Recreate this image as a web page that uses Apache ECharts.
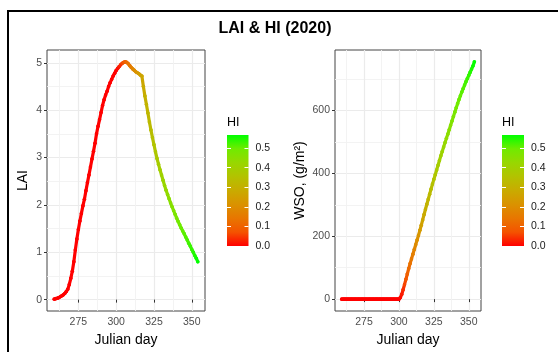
<!DOCTYPE html>
<html>
<head>
<meta charset="utf-8">
<script src="https://cdn.jsdelivr.net/npm/echarts@6/dist/echarts.min.js"></script>
<style>html,body{margin:0;padding:0;background:#fff}#c{width:558px;height:352px}</style>
</head>
<body>
<div id="c"></div>
<script>
// ---------- data ----------
const days = [];
for (let d = 259; d <= 354; d++) days.push(d);

const lai = [
  0.01,0.02,0.03,0.04,0.06,0.08,0.10,0.13,0.17,0.22,
  0.32,0.45,0.60,0.80,1.05,1.28,1.48,1.66,1.82,1.98,
  2.12,2.30,2.47,2.63,2.80,2.97,3.13,3.30,3.50,3.66,
  3.80,3.95,4.10,4.22,4.32,4.40,4.50,4.58,4.65,4.72,
  4.78,4.84,4.88,4.92,4.96,4.99,5.01,5.02,5.01,4.98,
  4.94,4.90,4.87,4.84,4.81,4.79,4.77,4.74,4.72,4.50,
  4.30,4.12,3.94,3.75,3.58,3.42,3.27,3.12,2.98,2.86,
  2.74,2.63,2.52,2.41,2.31,2.22,2.13,2.04,1.96,1.88,
  1.80,1.72,1.65,1.58,1.51,1.45,1.39,1.32,1.26,1.19,
  1.13,1.06,1.00,0.93,0.87,0.80
];

const wso = [
  0,0,0,0,0,0,0,0,0,0,
  0,0,0,0,0,0,0,0,0,0,
  0,0,0,0,0,0,0,0,0,0,
  0,0,0,0,0,0,0,0,0,0,
  0,0,5,15,30,46,63,80,97,113,
  128,143,158,173,188,203,219,235,252,269,
  286,302,318,334,350,366,381,396,411,426,
  441,456,470,484,498,512,525,539,553,567,
  581,595,609,622,635,647,659,670,681,692,
  702,712,722,732,742,755
];

const hi = [
  0,0,0,0,0,0,0,0,0,0,
  0,0,0,0,0,0,0,0,0,0,
  0,0,0,0,0,0,0,0,0,0,
  0,0,0,0,0,0,0,0,0,0,
  0,0,0.01,0.025,0.04,0.06,0.08,0.10,0.12,0.135,
  0.15,0.165,0.18,0.195,0.21,0.225,0.24,0.255,0.27,0.285,
  0.30,0.31,0.32,0.33,0.34,0.35,0.36,0.37,0.38,0.39,
  0.40,0.41,0.42,0.425,0.43,0.44,0.45,0.455,0.46,0.47,
  0.475,0.48,0.49,0.495,0.50,0.505,0.51,0.515,0.52,0.525,
  0.53,0.535,0.545,0.55,0.56,0.567
];

const xTicks = [275, 300, 325, 350];
const xMinor = [262.5, 287.5, 312.5, 337.5];
const laiTicks = [0, 1, 2, 3, 4, 5];
const laiMinor = [0.5, 1.5, 2.5, 3.5, 4.5];
const wsoTicks = [0, 200, 400, 600];
const wsoMinor = [100, 300, 500, 700];
const hiTicks = [0, 0.1, 0.2, 0.3, 0.4, 0.5];

// ---------- styling ----------
const FONT = "'Liberation Sans', Arial, sans-serif";
const gradColors = ['#FF0000','#F45300','#E87600','#DA9200','#C9AB00','#B3C200','#98D700','#70EB00','#00FF00'];

function range(arr, pad) {
  let mn = Math.min(...arr), mx = Math.max(...arr);
  const e = (mx - mn) * pad;
  return [mn - e, mx + e];
}
const xr = range(days, 0.05);
const lr = range(lai, 0.05);
const wr = range(wso, 0.05);
const hiMax = Math.max(...hi);

function mainX(gi) {
  return [{
    gridIndex: gi, type: 'value', min: xr[0], max: xr[1],
    axisLine: {show: false},
    axisTick: {show: true, customValues: xTicks, length: 3, lineStyle: {color: '#333', width: 1}},
    axisLabel: {customValues: xTicks, color: '#4D4D4D', fontSize: 10.5, fontFamily: FONT, margin: 6},
    splitLine: {show: true, lineStyle: {color: '#EBEBEB', width: 1.2}},
    name: 'Julian day', nameLocation: 'middle', nameGap: 21,
    nameTextStyle: {color: '#000', fontSize: 14, fontFamily: FONT}
  }, {
    gridIndex: gi, type: 'value', min: xr[0], max: xr[1], position: 'bottom',
    axisLine: {show: false}, axisLabel: {show: false},
    axisTick: {show: false, customValues: xMinor},
    splitLine: {show: true, lineStyle: {color: '#F2F2F2', width: 0.9}}
  }];
}
function mainY(gi, rng, ticks, minor, name, gap) {
  return [{
    gridIndex: gi, type: 'value', min: rng[0], max: rng[1],
    axisLine: {show: false},
    axisTick: {show: true, customValues: ticks, length: 3, lineStyle: {color: '#333', width: 1}},
    axisLabel: {customValues: ticks, color: '#4D4D4D', fontSize: 10.5, fontFamily: FONT, margin: 5},
    splitLine: {show: true, lineStyle: {color: '#EBEBEB', width: 1.2}},
    name: name, nameLocation: 'middle', nameGap: gap,
    nameTextStyle: {color: '#000', fontSize: 14, fontFamily: FONT}
  }, {
    gridIndex: gi, type: 'value', min: rng[0], max: rng[1], position: 'left',
    axisLine: {show: false}, axisLabel: {show: false},
    axisTick: {show: false, customValues: minor},
    splitLine: {show: true, lineStyle: {color: '#F2F2F2', width: 0.9}}
  }];
}
function barY(gi) {
  return [{
    gridIndex: gi, type: 'value', min: 0, max: hiMax, position: 'right', z: 10,
    axisLine: {show: false}, splitLine: {show: false},
    axisTick: {show: true, inside: true, length: 4, customValues: hiTicks, lineStyle: {color: '#fff', width: 1}},
    axisLabel: {customValues: hiTicks, color: '#1A1A1A', fontSize: 10.5, fontFamily: FONT, margin: 7,
      formatter: v => Number(v).toFixed(1)}
  }, {
    gridIndex: gi, type: 'value', min: 0, max: hiMax, position: 'left', z: 10,
    axisLine: {show: false}, splitLine: {show: false}, axisLabel: {show: false},
    axisTick: {show: true, inside: true, length: 4, customValues: hiTicks, lineStyle: {color: '#fff', width: 1}}
  }];
}

function makeRender(xs, ys) {
  return function (params, api) {
    const i = params.dataIndex;
    const p = api.coord([api.value(0), api.value(1)]);
    const color = api.visual('color');
    const children = [];
    if (i < xs.length - 1) {
      const q = api.coord([xs[i + 1], ys[i + 1]]);
      children.push({type: 'line', shape: {x1: p[0], y1: p[1], x2: q[0], y2: q[1]},
        style: {stroke: color, lineWidth: 3.2, lineCap: 'round'}});
    }
    children.push({type: 'circle', shape: {cx: p[0], cy: p[1], r: 1.8}, style: {fill: color}});
    return {type: 'group', children: children};
  };
}

const gradient = {
  type: 'linear', x: 0, y: 1, x2: 0, y2: 0,
  colorStops: gradColors.map((c, i) => ({offset: i / (gradColors.length - 1), color: c}))
};

const option = {
  animation: false,
  backgroundColor: '#fff',
  title: [
    {text: 'LAI & HI (2020)', left: 275, top: 21, textAlign: 'center', padding: 0,
      textStyle: {fontSize: 16, fontWeight: 'bold', color: '#000', fontFamily: FONT}},
    {text: 'HI', left: 227, top: 116, textStyle: {fontSize: 12.5, fontWeight: 'normal', color: '#000', fontFamily: FONT}, padding: 0},
    {text: 'HI', left: 502, top: 116, textStyle: {fontSize: 12.5, fontWeight: 'normal', color: '#000', fontFamily: FONT}, padding: 0}
  ],
  graphic: [{type: 'rect', shape: {x: 8, y: 11, width: 600, height: 400}, style: {fill: 'none', stroke: '#000', lineWidth: 2}, z: 100}],
  grid: [
    {left: 47, top: 50, width: 158, height: 261, show: true, borderColor: '#444', borderWidth: 1, backgroundColor: '#fff', z: 0},
    {left: 335, top: 50, width: 146, height: 261, show: true, borderColor: '#444', borderWidth: 1, backgroundColor: '#fff', z: 0},
    {left: 227, top: 135, width: 21.5, height: 111},
    {left: 502, top: 135, width: 22, height: 111}
  ],
  xAxis: [
    ...mainX(0),
    ...mainX(1),
    {gridIndex: 2, type: 'category', data: ['HI'], show: false},
    {gridIndex: 3, type: 'category', data: ['HI'], show: false}
  ],
  yAxis: [
    ...mainY(0, lr, laiTicks, laiMinor, 'LAI', 17),
    ...mainY(1, wr, wsoTicks, wsoMinor, 'WSO, (g/m²)', 28),
    ...barY(2),
    ...barY(3)
  ],
  visualMap: {
    type: 'continuous', show: false, dimension: 2, min: 0, max: hiMax,
    seriesIndex: [0, 1], inRange: {color: gradColors}
  },
  series: [
    {type: 'custom', xAxisIndex: 0, yAxisIndex: 0, z: 5,
      encode: {x: 0, y: 1},
      data: days.map((d, i) => [d, lai[i], hi[i]]),
      renderItem: makeRender(days, lai)},
    {type: 'custom', xAxisIndex: 2, yAxisIndex: 2, z: 5,
      encode: {x: 0, y: 1},
      data: days.map((d, i) => [d, wso[i], hi[i]]),
      renderItem: makeRender(days, wso)},
    {type: 'bar', xAxisIndex: 4, yAxisIndex: 4, data: [hiMax], barWidth: '100%', silent: true,
      itemStyle: {color: gradient}},
    {type: 'bar', xAxisIndex: 5, yAxisIndex: 6, data: [hiMax], barWidth: '100%', silent: true,
      itemStyle: {color: gradient}}
  ]
};

const chart = echarts.init(document.getElementById('c'), null, {renderer: 'canvas'});
chart.setOption(option);
</script>
</body>
</html>
